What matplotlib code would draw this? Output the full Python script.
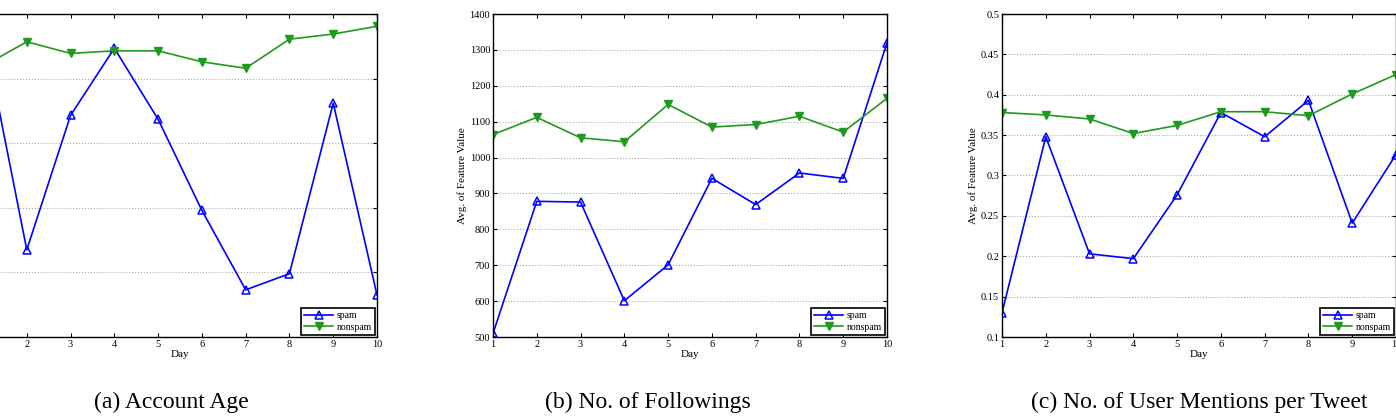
import numpy as np
import matplotlib
matplotlib.use('Agg')
import matplotlib.pyplot as plt

plt.rcParams['font.family'] = ['Liberation Serif', 'DejaVu Serif']

# данные
days = [1, 2, 3, 4, 5, 6, 7, 8, 9, 10]

# (a) Account Age (подписи оси Y обрезаны, масштаб условный)
age_spam = [954, 270, 686, 894, 674, 392, 146, 196, 724, 130]
age_nonspam = [838, 914, 878, 886, 886, 852, 832, 922, 938, 962]

# (b) No. of Followings
fol_spam = [510, 878, 876, 601, 701, 942, 869, 957, 942, 1320]
fol_nonspam = [1064, 1112, 1055, 1044, 1148, 1085, 1092, 1115, 1071, 1165]

# (c) No. of User Mentions per Tweet
men_spam = [0.13, 0.348, 0.203, 0.197, 0.276, 0.378, 0.348, 0.393, 0.241, 0.326]
men_nonspam = [0.378, 0.375, 0.370, 0.352, 0.362, 0.379, 0.379, 0.374, 0.401, 0.425]

captions = ['(a) Account Age', '(b) No. of Followings',
            '(c) No. of User Mentions per Tweet']

fig = plt.figure(figsize=(13.96, 4.19), dpi=100)

bottom = 1 - 337 / 419
height = (337 - 14) / 419
lefts = [-17 / 1396, 493 / 1396, 1002 / 1396]
width = 394 / 1396


def panel(ax, spam, nonspam, ylim, yticks, ylabel=True):
    ax.plot(days, spam, '-^', color='#0000ff', lw=1.2, ms=6,
            mfc='none', mec='#0000ff', mew=1.1, label='spam')
    ax.plot(days, nonspam, '-v', color='#1f9a1f', lw=1.2, ms=6,
            mfc='#1f9a1f', mec='#1f9a1f', label='nonspam')
    ax.set_xlim(1, 10)
    ax.set_ylim(*ylim)
    ax.set_xticks(days)
    ax.set_yticks(yticks)
    ax.yaxis.grid(True, linestyle=':', color='#aaaaaa', lw=0.8)
    ax.tick_params(direction='in', top=True, right=True, labelsize=7.5,
                   length=3, width=0.8, pad=2)
    for s in ax.spines.values():
        s.set_linewidth(1.0)
    ax.set_xlabel('Day', fontsize=8, labelpad=1)
    if ylabel:
        ax.set_ylabel('Avg. of Feature Value', fontsize=8, labelpad=2)
    leg = ax.legend(loc='lower right', fontsize=7, fancybox=False,
                    edgecolor='black', framealpha=1, borderpad=0.3,
                    handlelength=3.0, handletextpad=0.3,
                    labelspacing=0.25, borderaxespad=0.25)
    leg.get_frame().set_linewidth(1.2)


ax1 = fig.add_axes([lefts[0], bottom, width, height])
panel(ax1, age_spam, age_nonspam, (0, 1000), np.arange(0, 1001, 200))

ax2 = fig.add_axes([lefts[1], bottom, width, height])
panel(ax2, fol_spam, fol_nonspam, (500, 1400), np.arange(500, 1401, 100))

ax3 = fig.add_axes([lefts[2], bottom, width, height])
panel(ax3, men_spam, men_nonspam, (0.1, 0.5), [0.1, 0.15, 0.2, 0.25, 0.3, 0.35, 0.4, 0.45, 0.5])
ax3.set_yticklabels(['0.1', '0.15', '0.2', '0.25', '0.3', '0.35', '0.4', '0.45', '0.5'])

cap_x = [171 / 1396, 648 / 1396, 1199 / 1396]
for x, c in zip(cap_x, captions):
    fig.text(x, 1 - 402 / 419, c, ha='center', va='center', fontsize=17)

fig.savefig('out.png', dpi=100)
